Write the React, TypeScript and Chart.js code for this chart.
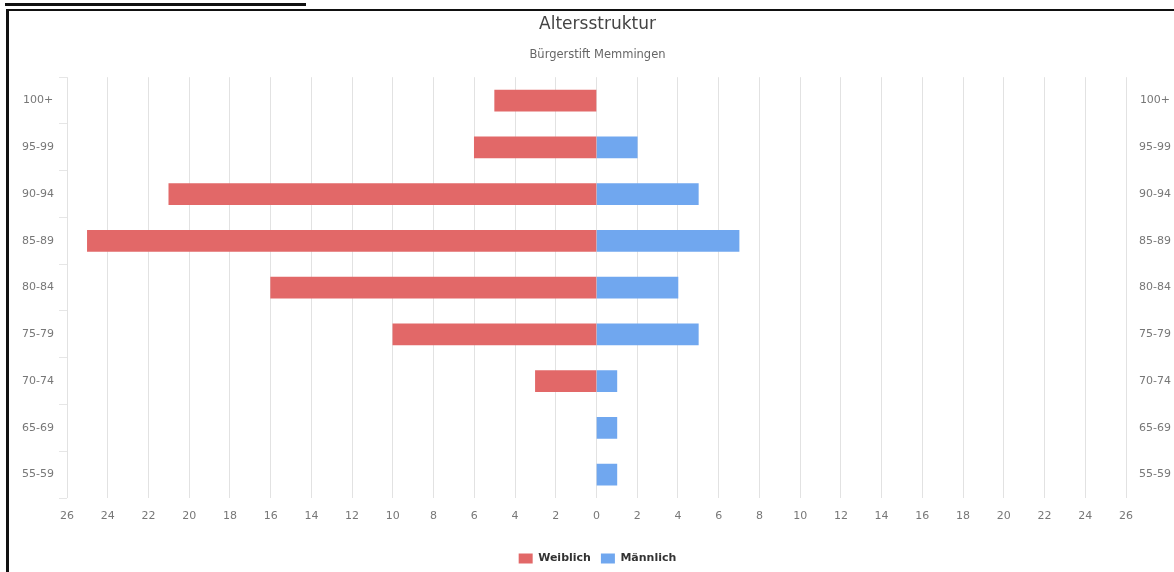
import React, { useEffect, useRef } from 'react';
import { Chart, registerables } from 'chart.js';

Chart.register(...registerables);

const ageGroups = ['100+', '95-99', '90-94', '85-89', '80-84', '75-79', '70-74', '65-69', '55-59'];
const weiblich = [5, 6, 21, 25, 16, 10, 3, 0, 0];
const maennlich = [0, 2, 5, 7, 4, 5, 1, 1, 1];
const titleText = 'Altersstruktur';
const subtitleText = 'Bürgerstift Memmingen';
const seriesNames = ['Weiblich', 'Männlich'];
const xMin = -26;
const xMax = 26;
const xStep = 2;

const FONT = '"DejaVu Sans", Verdana, sans-serif';

export default function App() {
  const ref = useRef<HTMLCanvasElement | null>(null);

  useEffect(() => {
    if (!ref.current) return;
    const chart = new Chart(ref.current, {
      type: 'bar',
      data: {
        labels: ageGroups,
        datasets: [
          {
            label: seriesNames[0],
            data: weiblich.map((v) => (v === 0 ? null : -v)),
            backgroundColor: '#e26868',
            borderWidth: 0,
            barThickness: 21,
            yAxisID: 'y',
          },
          {
            label: seriesNames[1],
            data: maennlich.map((v) => (v === 0 ? null : v)),
            backgroundColor: '#70a7ef',
            borderWidth: 0,
            barThickness: 21,
            yAxisID: 'y',
          },
        ],
      },
      options: {
        indexAxis: 'y',
        responsive: false,
        animation: false,
        layout: { padding: 0 },
        plugins: {
          title: {
            display: true,
            text: titleText,
            color: '#444',
            font: { family: FONT, size: 17, weight: 'normal' },
            padding: { top: 3, bottom: 7 },
          },
          subtitle: {
            display: true,
            text: subtitleText,
            color: '#666',
            font: { family: FONT, size: 11.5, weight: 'normal' },
            padding: { top: 7, bottom: 15 },
          },
          legend: {
            display: true,
            position: 'bottom',
            labels: {
              boxWidth: 14,
              boxHeight: 10,
              padding: 10,
              color: '#333',
              font: { family: FONT, size: 11, weight: 'bold' },
            },
          },
          tooltip: { enabled: false },
        },
        scales: {
          x: {
            type: 'linear',
            stacked: true,
            min: xMin,
            max: xMax,
            border: { display: false },
            grid: { color: '#e2e2e2', drawTicks: false },
            ticks: {
              stepSize: xStep,
              padding: 12,
              color: '#777',
              font: { family: FONT, size: 11 },
              callback: (v: any) => String(Math.abs(Number(v))),
            },
            afterFit: (s: any) => {
              s.height = 45;
            },
          },
          y: {
            type: 'category',
            position: 'left',
            stacked: true,
            border: { display: false },
            grid: { drawOnChartArea: false, drawTicks: true, tickLength: 8, color: '#e6e6e6' },
            ticks: {
              crossAlign: 'center',
              padding: 5,
              color: '#777',
              font: { family: FONT, size: 11 },
            },
            afterFit: (s: any) => {
              s.width = 58;
            },
          },
          y2: {
            type: 'category',
            position: 'right',
            labels: ageGroups,
            offset: true,
            border: { display: false },
            grid: { display: false, drawTicks: false },
            ticks: {
              crossAlign: 'center',
              padding: 13,
              color: '#777',
              font: { family: FONT, size: 11 },
            },
            afterFit: (s: any) => {
              s.width = 60;
            },
          },
        },
      },
    });
    return () => chart.destroy();
  }, []);

  return (
    <div
      style={{
        position: 'fixed',
        left: 0,
        top: 0,
        width: 1174,
        height: 572,
        overflow: 'hidden',
        background: '#fff',
      }}
    >
      <div style={{ position: 'absolute', left: 5, top: 3, width: 301, height: 3, background: '#111' }} />
      <div
        style={{
          position: 'absolute',
          left: 6,
          top: 9,
          width: 1300,
          height: 700,
          borderTop: '2px solid #111',
          borderLeft: '3px solid #111',
        }}
      />
      <canvas
        ref={ref}
        width={1177}
        height={563}
        style={{ position: 'absolute', left: 9, top: 11, display: 'block' }}
      />
    </div>
  );
}
